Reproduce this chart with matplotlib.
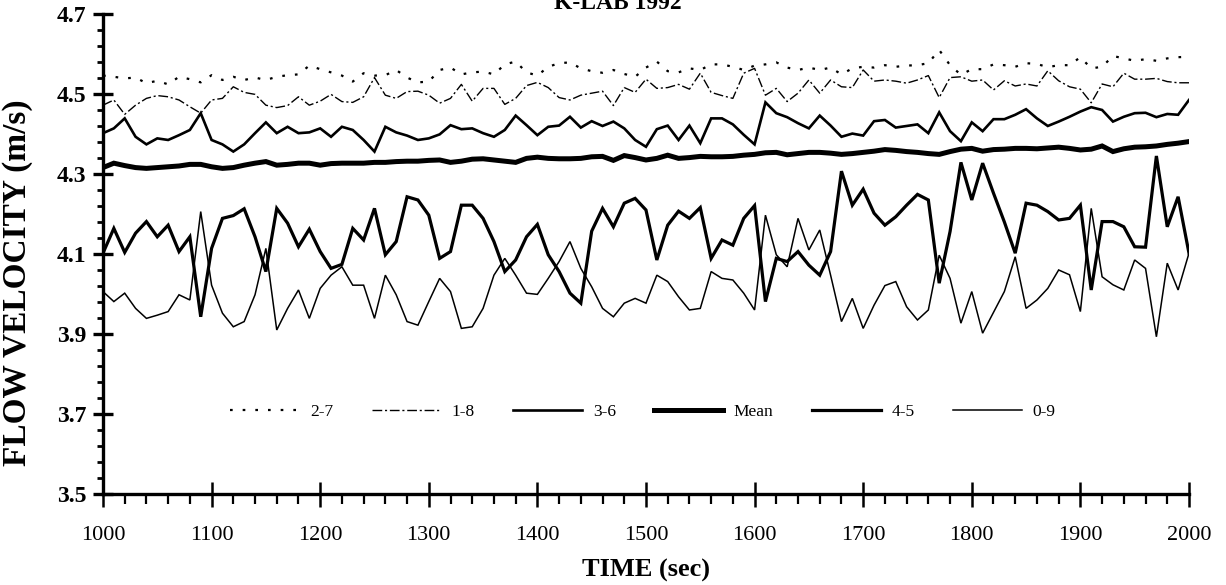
import numpy as np
import matplotlib
matplotlib.use("Agg")
import matplotlib.pyplot as plt
from matplotlib.ticker import FixedLocator, MultipleLocator, FormatStrFormatter

time_s = list(range(1000, 2001, 10))

s27 = [4.546, 4.543, 4.539, 4.541, 4.527, 4.533, 4.524, 4.543, 4.537, 4.529, 4.547, 4.535, 4.543, 4.535, 4.541, 4.535, 4.543, 4.547, 4.549, 4.571, 4.562,
       4.554, 4.546, 4.531, 4.552, 4.546, 4.547, 4.560, 4.541, 4.529, 4.531, 4.560, 4.566, 4.549, 4.554, 4.556, 4.549, 4.574, 4.581, 4.554, 4.546, 4.568,
       4.577, 4.579, 4.564, 4.557, 4.553, 4.560, 4.550, 4.543, 4.566, 4.581, 4.557, 4.554, 4.564, 4.560, 4.574, 4.574, 4.568, 4.560, 4.571, 4.574, 4.579,
       4.566, 4.560, 4.566, 4.560, 4.566, 4.549, 4.564, 4.568, 4.566, 4.572, 4.568, 4.571, 4.572, 4.577, 4.610, 4.572, 4.548, 4.562, 4.562, 4.574,
       4.572, 4.568, 4.577, 4.575, 4.567, 4.572, 4.572, 4.592, 4.564, 4.568, 4.595, 4.589, 4.583, 4.587, 4.583, 4.589, 4.592, 4.593]

s18 = [4.472, 4.485, 4.449, 4.472, 4.489, 4.496, 4.493, 4.485, 4.468, 4.452, 4.485, 4.489, 4.518, 4.504, 4.499, 4.472, 4.466, 4.471, 4.493, 4.472, 4.482,
       4.499, 4.481, 4.479, 4.493, 4.541, 4.497, 4.489, 4.506, 4.507, 4.497, 4.477, 4.489, 4.524, 4.482, 4.514, 4.514, 4.474, 4.489, 4.521, 4.529, 4.516,
       4.491, 4.485, 4.497, 4.502, 4.507, 4.471, 4.516, 4.504, 4.537, 4.514, 4.516, 4.524, 4.512, 4.552, 4.504, 4.496, 4.489, 4.552, 4.564, 4.497, 4.514,
       4.481, 4.502, 4.535, 4.502, 4.535, 4.518, 4.516, 4.560, 4.532, 4.535, 4.532, 4.527, 4.535, 4.546, 4.491, 4.541, 4.543, 4.532, 4.535, 4.510,
       4.533, 4.520, 4.525, 4.520, 4.558, 4.533, 4.518, 4.512, 4.478, 4.525, 4.518, 4.552, 4.537, 4.537, 4.539, 4.531, 4.528, 4.528]

s36 = [4.402, 4.414, 4.439, 4.393, 4.374, 4.389, 4.385, 4.397, 4.410, 4.452, 4.385, 4.374, 4.356, 4.374, 4.402, 4.429, 4.402, 4.418, 4.402, 4.404, 4.414,
       4.393, 4.418, 4.410, 4.385, 4.356, 4.418, 4.404, 4.396, 4.385, 4.389, 4.399, 4.422, 4.412, 4.414, 4.402, 4.393, 4.410, 4.446, 4.422, 4.397, 4.418,
       4.421, 4.443, 4.416, 4.432, 4.420, 4.431, 4.414, 4.385, 4.368, 4.412, 4.421, 4.385, 4.421, 4.377, 4.439, 4.439, 4.424, 4.398, 4.374, 4.479, 4.452,
       4.442, 4.427, 4.414, 4.446, 4.421, 4.393, 4.401, 4.396, 4.432, 4.435, 4.416, 4.420, 4.424, 4.402, 4.454, 4.407, 4.382, 4.429, 4.407, 4.437,
       4.437, 4.448, 4.462, 4.439, 4.420, 4.431, 4.443, 4.456, 4.467, 4.460, 4.431, 4.443, 4.452, 4.453, 4.442, 4.450, 4.448, 4.485]

s_mean = [4.316, 4.327, 4.321, 4.316, 4.314, 4.316, 4.318, 4.320, 4.324, 4.324, 4.318, 4.314, 4.316, 4.322, 4.327, 4.331, 4.322, 4.324, 4.327, 4.327, 4.322,
          4.326, 4.327, 4.327, 4.327, 4.329, 4.329, 4.331, 4.332, 4.332, 4.334, 4.335, 4.329, 4.332, 4.337, 4.338, 4.335, 4.332, 4.329, 4.339, 4.342, 4.339,
          4.338, 4.338, 4.339, 4.343, 4.344, 4.334, 4.346, 4.341, 4.335, 4.339, 4.347, 4.339, 4.341, 4.344, 4.343, 4.343, 4.344, 4.347, 4.349, 4.353, 4.354,
          4.348, 4.351, 4.354, 4.354, 4.352, 4.349, 4.351, 4.354, 4.357, 4.361, 4.359, 4.356, 4.354, 4.351, 4.349, 4.356, 4.362, 4.364, 4.357, 4.361,
          4.362, 4.364, 4.364, 4.363, 4.365, 4.367, 4.364, 4.360, 4.362, 4.370, 4.356, 4.363, 4.367, 4.368, 4.370, 4.374, 4.377, 4.381]

s45 = [4.102, 4.164, 4.104, 4.152, 4.181, 4.143, 4.172, 4.106, 4.143, 3.943, 4.114, 4.189, 4.196, 4.213, 4.143, 4.056, 4.214, 4.177, 4.118, 4.162, 4.106,
       4.064, 4.074, 4.164, 4.135, 4.214, 4.098, 4.131, 4.243, 4.235, 4.197, 4.089, 4.106, 4.222, 4.222, 4.189, 4.131, 4.056, 4.085, 4.143, 4.174, 4.098,
       4.056, 4.002, 3.977, 4.157, 4.214, 4.168, 4.227, 4.239, 4.210, 4.085, 4.172, 4.207, 4.189, 4.216, 4.089, 4.135, 4.122, 4.189, 4.221, 3.981, 4.089,
       4.081, 4.106, 4.072, 4.047, 4.106, 4.307, 4.222, 4.262, 4.202, 4.172, 4.193, 4.222, 4.249, 4.235, 4.027, 4.156, 4.329, 4.235, 4.327, 4.252,
       4.180, 4.102, 4.227, 4.222, 4.206, 4.185, 4.189, 4.222, 4.010, 4.181, 4.181, 4.168, 4.118, 4.117, 4.345, 4.168, 4.243, 4.102]

s09 = [4.006, 3.981, 4.002, 3.964, 3.939, 3.947, 3.956, 3.998, 3.985, 4.206, 4.022, 3.952, 3.918, 3.931, 3.998, 4.114, 3.910, 3.964, 4.010, 3.939, 4.014,
       4.047, 4.068, 4.022, 4.022, 3.939, 4.047, 3.998, 3.931, 3.922, 3.981, 4.039, 4.006, 3.914, 3.918, 3.964, 4.047, 4.089, 4.047, 4.002, 3.999, 4.039,
       4.081, 4.131, 4.064, 4.018, 3.964, 3.943, 3.977, 3.989, 3.977, 4.047, 4.031, 3.993, 3.960, 3.964, 4.056, 4.039, 4.035, 4.002, 3.960, 4.197, 4.098,
       4.068, 4.189, 4.110, 4.160, 4.047, 3.931, 3.989, 3.914, 3.972, 4.021, 4.031, 3.968, 3.935, 3.960, 4.097, 4.039, 3.927, 4.006, 3.902, 3.954,
       4.006, 4.093, 3.964, 3.985, 4.014, 4.060, 4.048, 3.956, 4.214, 4.043, 4.023, 4.010, 4.085, 4.064, 3.893, 4.077, 4.010, 4.102]

series_labels = ["2-7", "1-8", "3-6", "Mean", "4-5", "0-9"]
y_ticks = [3.5, 3.7, 3.9, 4.1, 4.3, 4.5, 4.7]
title_text = "K-LAB 1992"
x_title = "TIME (sec)"
y_title = "FLOW VELOCITY (m/s)"

serif = ["Liberation Serif", "DejaVu Serif"]
plt.rcParams["font.family"] = serif

fig = plt.figure(figsize=(12.26, 5.85), dpi=100)
ax = fig.add_axes([0.0840, 0.1556, 0.8858, 0.8205])

styles = [
    dict(ls=(0, (1.2, 4.5)), lw=1.6),
    dict(ls=(0, (7, 2, 1.5, 2)), lw=1.0),
    dict(ls="-", lw=1.9),
    dict(ls="-", lw=3.6),
    dict(ls="-", lw=2.3),
    dict(ls="-", lw=1.1),
]
data = [s27, s18, s36, s_mean, s45, s09]
for vals, lab, st in zip(data, series_labels, styles):
    ax.plot(time_s, vals, color="black", label=lab, solid_joinstyle="miter",
            **st)

ax.set_xlim(1000, 2000)
ax.set_ylim(3.5, 4.7)
for side in ["top", "right"]:
    ax.spines[side].set_visible(False)
for side in ["left", "bottom"]:
    ax.spines[side].set_linewidth(2.4)

minor_y = np.round(np.arange(3.5, 4.7001, 0.04), 3)
ax.xaxis.set_major_locator(MultipleLocator(100))
ax.xaxis.set_minor_locator(MultipleLocator(20))
ax.yaxis.set_major_locator(FixedLocator(y_ticks))
ax.yaxis.set_minor_locator(FixedLocator(minor_y))
ax.yaxis.set_major_formatter(FormatStrFormatter("%.1f"))

ax.tick_params(axis="x", which="major", direction="inout", length=18, width=1.8,
               pad=14, labelsize=16)
ax.tick_params(axis="x", which="minor", direction="out", length=7, width=1.6)
ax.tick_params(axis="y", which="major", direction="inout", length=14, width=2.4,
               pad=5, labelsize=17)
ax.tick_params(axis="y", which="minor", direction="out", length=4, width=2.0)
for t in ax.get_yticklabels():
    t.set_fontweight("bold")

ax.set_xlabel(x_title, fontsize=19, fontweight="bold", labelpad=10)
ax.set_ylabel(y_title, fontsize=24, fontweight="bold")
ax.yaxis.set_label_coords(-0.064, 0.44)

fig.text(0.504, 0.994, title_text, ha="center", va="center", fontsize=17,
         fontweight="bold")

leg = ax.legend(loc="center left", bbox_to_anchor=(0.103, 0.17), ncol=6,
                frameon=False, fontsize=12.5, handlelength=4.0,
                handletextpad=0.6, columnspacing=2.2)

fig.savefig("out.png", dpi=100)
